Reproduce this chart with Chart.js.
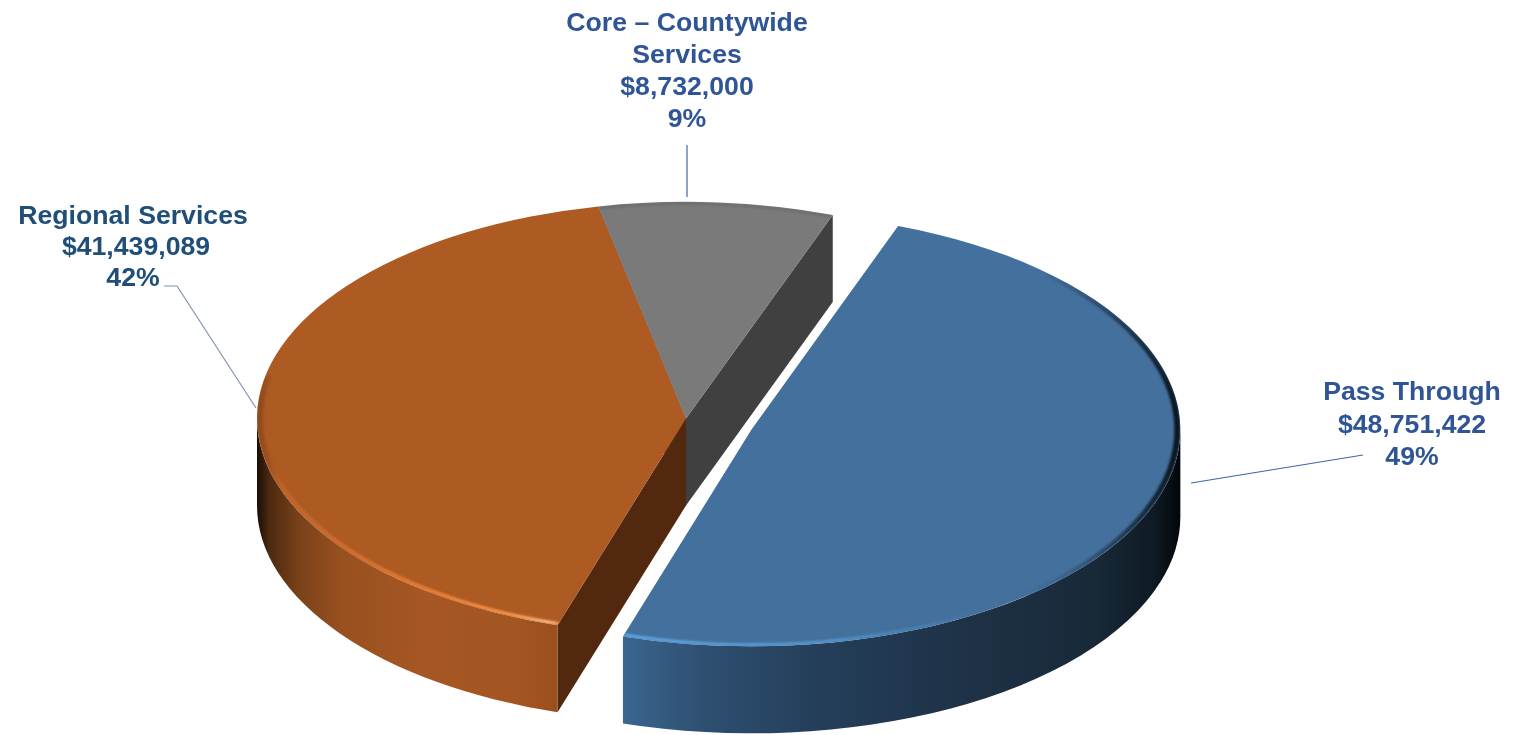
<!DOCTYPE html>
<html>
<head>
<meta charset="utf-8">
<title>Budget pie</title>
<script src="https://cdn.jsdelivr.net/npm/chart.js@4/dist/chart.umd.min.js"></script>
<style>
  html, body { margin: 0; background: #fff; overflow: hidden; }
  canvas { display: block; }
</style>
</head>
<body>
<canvas id="chart" width="1513" height="735"></canvas>
<script>
const categories  = ['Pass Through', 'Regional Services', 'Core – Countywide Services'];
const amounts     = [48751422, 41439089, 8732000];
const labelLines  = [['Pass Through'], ['Regional Services'], ['Core – Countywide', 'Services']];

const topColors   = ['#44709d', '#ad5a23', '#7a7a7a'];
const cutColors   = ['#22384f', '#52280e', '#404040'];
const textColors  = ['#2f5597', '#1f4e79', '#2f5597'];
const lineColors  = ['#3f66a8', '#7f93ae', '#3f66a8'];
const explode     = [69, 0, 0];

// label centre x, first line centre y, line step
const labelPos    = [[1412, 393], [133, 217], [687, 24]];
const labelStep   = [32.5, 31, 32];
const amountNudge = [0, 3, 0];
const leaderPaths = [
  [[1363, 455], [1191, 483]],
  [[164, 286], [177, 286], [256, 408]],
  [[687, 145], [687, 197]],
];

// side wall shading, stops are fractions across the full pie width
const wallStops = [
  [[.35, '#3a6690'], [.44, '#2f5072'], [.56, '#25405c'], [.73, '#1f3349'], [.9, '#182938'], [.97, '#0e1a24'], [1, '#030608']],
  [[0, '#1a0e05'], [.015, '#4e2a10'], [.05, '#7a4219'], [.1, '#99511f'], [.2, '#a65723'], [.3, '#a35622'], [.35, '#9c4f1e']],
  [[0, '#555555'], [1, '#555555']],
];
const rimStops = [
  [[.35, '#5fa8e4'], [.5, '#5a9ed8'], [.6, '#5494cc'], [.72, 'rgba(70,125,175,.8)'], [.8, 'rgba(68,113,158,0)'],
   [.88, 'rgba(10,25,40,.25)'], [.95, 'rgba(10,20,30,.7)'], [1, 'rgba(5,10,15,.9)']],
  [[0, 'rgba(110,55,20,.5)'], [.03, 'rgba(200,105,45,.7)'], [.2, '#ee8034'], [.3, '#fc984e'], [.34, '#ffc084'], [.35, '#fca060']],
  [[0, 'rgba(90,90,90,.35)'], [1, 'rgba(90,90,90,.35)']],
];

const SQUASH = 0.505;   // y flattening of the disc
const DEPTH  = 87;      // wall height in screen px
const DISC   = { left: 257, top: -10.5, right: 1115, bottom: 847.5, width: 858, height: 858 };

function wallGradient(ctx, el, stops) {
  const g = ctx.createLinearGradient(el.x - el.outerRadius, 0, el.x + el.outerRadius, 0);
  stops.forEach(s => g.addColorStop(s[0], s[1]));
  return g;
}

class Pie3dController extends Chart.PieController {
  static id = 'pie3d';
  static defaults = { dataElementType: 'arc' };

  draw() {
    const ctx  = this.chart.ctx;
    const area = this.chart.chartArea;
    const arcs = this._cachedMeta.data;
    const cy   = (area.top + area.bottom) / 2;
    const drop = DEPTH / SQUASH;

    const place = (el, i) => {
      const mid = (el.startAngle + el.endAngle) / 2;
      ctx.translate(Math.cos(mid) * explode[i], cy * (1 - SQUASH) + Math.sin(mid) * explode[i] * SQUASH);
      ctx.scale(1, SQUASH);
    };

    // ── Cut faces, back slices first ─────────────────────────────────
    for (let i = arcs.length - 1; i >= 0; i--) {
      const el = arcs[i];
      const r  = el.outerRadius;
      ctx.save();
      place(el, i);
      ctx.fillStyle = cutColors[i];
      [[el.startAngle, -Math.PI / 2], [el.endAngle, Math.PI / 2]].forEach(([a, turn]) => {
        if (Math.sin(a + turn) <= 0) return;
        ctx.beginPath();
        ctx.moveTo(el.x, el.y);
        ctx.lineTo(el.x + Math.cos(a) * r, el.y + Math.sin(a) * r);
        ctx.lineTo(el.x + Math.cos(a) * r, el.y + Math.sin(a) * r + drop);
        ctx.lineTo(el.x, el.y + drop);
        ctx.closePath();
        ctx.fill();
      });
      ctx.restore();
    }

    // ── Outer walls, only the front half shows ───────────────────────
    arcs.forEach((el, i) => {
      const a0 = Math.max(el.startAngle, 0);
      const a1 = Math.min(el.endAngle, Math.PI);
      if (a1 <= a0) return;
      ctx.save();
      place(el, i);
      ctx.fillStyle = wallGradient(ctx, el, wallStops[i]);
      ctx.beginPath();
      ctx.arc(el.x, el.y, el.outerRadius, a0, a1);
      ctx.arc(el.x, el.y + drop, el.outerRadius, a1, a0, true);
      ctx.closePath();
      ctx.fill();
      ctx.restore();
    });

    // ── Top faces and bevel ──────────────────────────────────────────
    arcs.forEach((el, i) => {
      ctx.save();
      place(el, i);
      el.draw(ctx, area);

      ctx.beginPath();
      ctx.moveTo(el.x, el.y);
      ctx.arc(el.x, el.y, el.outerRadius, el.startAngle, el.endAngle);
      ctx.closePath();
      ctx.clip();

      let a0 = Math.max(el.startAngle, -0.8);
      let a1 = Math.min(el.endAngle, Math.PI + 0.2);
      if (a1 <= a0) { a0 = el.startAngle; a1 = el.endAngle; }   // back slice: whole edge

      ctx.beginPath();
      ctx.arc(el.x, el.y, el.outerRadius - 3, a0, a1);
      ctx.strokeStyle = wallGradient(ctx, el, rimStops[i]);
      ctx.lineWidth = 6;
      ctx.filter = 'blur(0.8px)';
      ctx.stroke();
      ctx.restore();
    });
  }
}
Chart.register(Pie3dController);

// the disc is flattened when drawn, so its square area is taller than the canvas
const discArea = {
  id: 'discArea',
  afterLayout(chart) {
    chart.chartArea = Object.assign({}, DISC);
  }
};

const dataLabels = {
  id: 'dataLabels',
  afterDraw(chart) {
    const ctx   = chart.ctx;
    const total = amounts.reduce((a, b) => a + b, 0);
    ctx.save();
    leaderPaths.forEach((path, i) => {
      ctx.strokeStyle = lineColors[i];
      ctx.lineWidth = 1.2;
      ctx.beginPath();
      path.forEach((p, j) => j ? ctx.lineTo(p[0], p[1]) : ctx.moveTo(p[0], p[1]));
      ctx.stroke();
    });
    ctx.font = 'bold 26.67px "Liberation Sans", Arial, sans-serif';
    ctx.textAlign = 'center';
    ctx.textBaseline = 'middle';
    amounts.forEach((v, i) => {
      const [x, y] = labelPos[i];
      const n = labelLines[i].length;
      ctx.fillStyle = textColors[i];
      labelLines[i].forEach((t, j) => ctx.fillText(t, x, y + j * labelStep[i]));
      ctx.fillText('$' + v.toLocaleString('en-US'), x + amountNudge[i], y + n * labelStep[i]);
      ctx.fillText(Math.round(v / total * 100) + '%', x, y + (n + 1) * labelStep[i]);
    });
    ctx.restore();
  }
};

new Chart(document.getElementById('chart'), {
  type: 'pie3d',
  data: {
    labels: categories,
    datasets: [{
      data: amounts,
      backgroundColor: topColors,
      borderWidth: 0,
      clip: false,
    }]
  },
  options: {
    responsive: false,
    animation: false,
    rotation: 20,
    events: [],
    plugins: { legend: { display: false }, tooltip: { enabled: false } },
  },
  plugins: [discArea, dataLabels],
});
</script>
</body>
</html>
